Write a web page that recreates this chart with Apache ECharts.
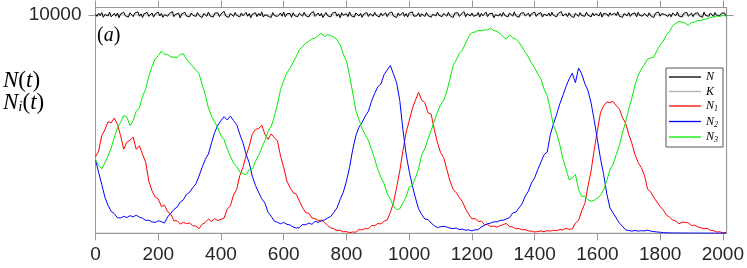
<!DOCTYPE html>
<html><head><meta charset="utf-8">
<script src="https://cdn.jsdelivr.net/npm/echarts@6/dist/echarts.min.js"></script>
<style>html,body{margin:0;padding:0;background:#fff}#c{width:747px;height:268px}</style>
</head><body><div id="c"></div>
<script>
// ---- data ----
const xTicks = [0, 200, 400, 600, 800, 1000, 1200, 1400, 1600, 1800, 2000];
const yTicks = [10000];
const stepTotal = 5;    // time step of N samples
const stepSpecies = 10; // time step of N1..N3 samples
const capacityK = 10000;

const totalN = [
10040,9930,10080,9970,10110,9890,10020,10060,9950,10130,
9910,10000,10070,9940,10090,9870,10050,9980,10120,9960,
10030,9900,10100,10010,9920,10080,9990,10140,9940,10050,
9880,10060,9970,10110,9930,10020,10090,9900,10040,9960,
10130,9950,10070,9890,10010,10100,9940,10060,9980,10150,
9920,10030,9970,10080,9860,10050,10000,10120,9950,10040,
9910,10090,9990,10060,9930,10110,9970,10020,9880,10070,
10010,9940,10130,9960,10050,9900,10080,9990,10100,9920,
10040,9970,10160,9950,10030,9890,10070,10000,9930,10110,
9980,10050,9910,10090,9960,10020,10120,9940,10060,9870,
10030,9990,10100,9920,10070,9960,10140,9900,10010,10080,
9950,10040,9880,10110,9970,10060,9930,10020,10090,9940,
10130,9910,10050,9980,10070,9890,10100,9960,10030,9920,
10080,10000,9940,10120,9970,10040,9900,10060,9990,10150,
9930,10020,10090,9950,10070,9880,10010,10110,9960,10040,
9910,10080,9990,10130,9940,10050,9870,10100,9980,10030,
10060,9920,10140,9960,10020,9900,10090,10010,9950,10070,
9890,10040,9970,10110,9930,10060,10000,9940,10120,9980,
10050,9910,10080,9960,10030,10100,9920,10070,9990,10130,
9950,10010,9880,10090,9970,10040,10120,9930,10060,9900,
10080,9990,10140,9940,10020,9960,10100,9910,10050,10000,
9930,10110,9970,10060,9890,10030,10090,9950,10130,9980,
10040,9920,10070,10010,9940,10120,9960,10050,9880,10080,
9990,10100,9930,10030,9970,10150,9910,10060,10000,9950,
10090,9940,10020,9980,10110,9900,10070,9960,10040,10130,
9920,10050,9990,10080,9870,10010,10100,9950,10060,9930,
10120,9970,10040,9910,10090,10000,9940,10140,9960,10030,
9890,10070,9980,10110,9950,10020,10080,9920,10060,9990,
10130,9930,10050,9970,10100,9900,10040,10010,9960,10090,
9940,10120,9980,10030,9910,10070,9990,10150,9950,10020,
10060,9920,10100,9960,10040,9880,10080,10000,9930,10110,
9970,10050,9940,10130,9990,10020,9910,10090,9960,10060,
10010,9950,10120,9900,10070,9980,10040,9930,10100,10000,
9920,10080,9970,10140,9940,10030,9890,10060,10010,9960,
10110,9930,10050,9990,10090,9910,10120,9970,10040,9950,
10070,10000,9920,10100,9960,10030,9880,10080,9990,10130,
9940,10060,9970,10020,10110,9930,10050,9910,10090,10010,
9960,10140,9950,10040,9900,10070,9980,10120,9940,10030,
10080,9920,10060,9990,10100,9960,10020,9890,10130,9970,
10050,9940,10090,10010,9930,10110,9980,10040,9960,10070,
9990,10100,9950
];

const n1 = [
3508,3760,4480,4740,5110,5060,5280,4990,4470,3850,
4170,4260,4400,3840,4010,3620,3250,2390,1950,1660,
1570,1230,1280,990,880,570,580,420,500,450,
470,350,330,210,410,500,650,540,670,580,
640,700,1110,1260,1750,2010,2640,3010,3560,3990,
4550,4760,4790,4950,4540,4300,4550,4380,4240,3530,
3020,2400,2100,1860,1790,1480,1180,950,920,700,
670,580,600,500,360,250,200,130,140,70,
80,30,60,50,170,160,220,200,360,350,
450,430,560,610,960,1400,2100,2850,3780,4600,
5150,5700,6100,6460,6090,5990,5520,5450,4760,4160,
3700,3470,2930,2400,2020,1860,1640,1440,1110,870,
660,670,550,560,400,410,310,330,280,350,
400,450,310,290,210,220,160,170,110,100,
60,80,110,70,120,100,140,120,170,160,
230,180,200,470,590,1030,1370,2150,2860,3850,
4690,5530,5840,6010,5990,6040,5840,5700,5300,5040,
4530,4120,3600,3240,3010,2660,2020,1900,1640,1430,
1220,1070,840,740,610,560,430,510,500,480,
360,370,290,250,210,230,140,120,60,70,
20,40
];

const n2 = [
3355,2790,2240,1650,1280,1010,900,710,700,780,
720,810,750,830,740,690,590,600,520,500,
570,530,470,750,920,1090,1200,1430,1530,1780,
1880,2090,2260,2620,3020,3390,3630,4150,4620,4950,
5160,5340,5190,5370,5160,4980,4540,4150,3630,3230,
2610,2190,1880,1580,1390,970,780,560,500,440,
500,410,380,290,240,260,400,390,470,410,
550,500,570,620,700,770,960,1170,1550,1880,
2390,3020,3840,4470,4860,5080,5370,5590,6050,6410,
6710,6840,7270,7480,7680,7290,6890,6080,4750,3640,
2840,2190,1620,1120,860,650,630,470,350,260,
300,320,290,230,220,240,170,190,140,160,
110,160,170,290,370,440,470,530,520,590,
600,660,720,930,970,1160,1350,1700,1930,2310,
2540,2920,3260,3600,3720,4520,5010,5440,5920,6310,
6720,7070,7330,6900,7570,7300,6850,6530,5970,5160,
4290,3410,2690,1810,1160,930,700,470,320,160,
130,100,130,100,120,110,140,100,80,60,
50,30,25,20,18,15,14,12,12,10,
10,9,9,8,8,7,7,6,6,5,
5,5
];

const n3 = [
3355,3110,2950,3230,3550,3910,4390,4830,5080,5390,
5310,4930,5160,5590,5740,6280,6600,7190,7630,7990,
8130,8340,8210,8180,8080,8070,8050,8190,8220,7980,
7790,7650,7480,7310,6810,6350,5740,5360,5090,4830,
4470,4290,3860,3530,3210,3070,2800,2730,2690,2920,
2950,3300,3560,3910,4250,4670,4890,5330,5920,6580,
6990,7350,7550,7830,8090,8410,8550,8710,8790,8900,
8940,9050,9170,9000,9100,9050,8990,8850,8640,8210,
7880,7220,6430,5620,5210,4780,4520,4250,3840,3410,
2920,2570,2280,1810,1550,1230,1090,1120,1390,1660,
2120,2180,2540,2950,3600,3870,4320,4700,5130,5540,
5890,6080,6500,7070,7680,7940,8230,8400,8710,9010,
9200,9210,9290,9280,9320,9310,9400,9280,9250,9130,
8990,8900,9090,8950,8890,8750,8530,8290,8070,7790,
7570,7300,7070,6610,6300,5650,4930,4590,4060,3410,
2950,2450,2530,2700,2000,1690,1700,1530,1470,1510,
1620,1730,2000,2420,2920,3150,3600,4020,4590,5090,
5690,6200,6800,7230,7520,7730,7980,8030,8070,8370,
8630,8800,9090,9250,9500,9620,9700,9670,9620,9520,
9650,9670,9740,9750,9800,9820,9890,9900,9950,9930,
9980,9950
];

// ---- chart ----
const pairs = (arr, step) => arr.map((v, i) => [i * step, v]);
const axisGrey = '#969696';
const labelFont = 'Liberation Sans, Arial, sans-serif';
const serif = 'Liberation Serif, Times New Roman, serif';
const X_MAX = 2012, Y_MAX = 10340;

const chart = echarts.init(document.getElementById('c'), null, {renderer: 'canvas'});
const lineSeries = (name, data, color, w, z) => ({
  name, type: 'line', data, showSymbol: false, symbol: 'none', animation: false,
  lineStyle: {color, width: w}, itemStyle: {color}, z, silent: true
});

const subRich = {
  n: {fontFamily: serif, fontStyle: 'italic', fontSize: 12, color: '#000'},
  s: {fontFamily: serif, fontSize: 8, color: '#000', padding: [6, 0, 0, 0]}
};
const legendNames = {N: '{n|N}', K: '{n|K}', N1: '{n|N}{s|1}', N2: '{n|N}{s|2}', N3: '{n|N}{s|3}'};
const plain = v => String(v);
const mkLine = () => ({show: true, onZero: false, lineStyle: {color: axisGrey, width: 1}});

chart.setOption({
  animation: false,
  grid: {left: 95.5, right: 17.5, top: 7.5, bottom: 34.7, containLabel: false,
         show: true, borderColor: axisGrey, borderWidth: 1, backgroundColor: 'transparent'},
  xAxis: [{
    type: 'value', min: 0, max: X_MAX, position: 'bottom',
    axisLine: mkLine(),
    axisTick: {show: true, inside: false, length: 7, lineStyle: {color: axisGrey}, customValues: xTicks},
    axisLabel: {show: true, customValues: xTicks, formatter: plain, margin: 12, fontFamily: labelFont, fontSize: 19, color: '#262626'},
    splitLine: {show: false}
  }, {
    type: 'value', min: 0, max: X_MAX, position: 'top',
    axisLine: mkLine(),
    axisTick: {show: true, inside: false, length: 7, lineStyle: {color: axisGrey}, customValues: xTicks},
    axisLabel: {show: false},
    splitLine: {show: false}
  }],
  yAxis: [{
    type: 'value', min: 0, max: Y_MAX, position: 'left',
    axisLine: mkLine(),
    axisTick: {show: true, inside: false, length: 7, lineStyle: {color: axisGrey}, customValues: yTicks},
    axisLabel: {show: true, customValues: yTicks, formatter: plain, margin: 14, fontFamily: labelFont, fontSize: 19, color: '#262626'},
    splitLine: {show: false}
  }, {
    type: 'value', min: 0, max: Y_MAX, position: 'right',
    axisLine: mkLine(),
    axisTick: {show: true, inside: false, length: 7, lineStyle: {color: axisGrey}, customValues: yTicks},
    axisLabel: {show: false},
    splitLine: {show: false}
  }],
  legend: {
    data: ['N', 'K', 'N1', 'N2', 'N3'],
    orient: 'vertical', left: 666, top: 68,
    icon: 'rect', itemWidth: 32, itemHeight: 1.3, itemGap: 2.5,
    padding: [3, 5, 3, 3],
    borderColor: '#555', borderWidth: 1, backgroundColor: '#fff',
    formatter: name => legendNames[name],
    textStyle: {fontFamily: serif, fontStyle: 'italic', fontSize: 12, color: '#000', rich: subRich}
  },
  series: [
    lineSeries('K', pairs(Array(202).fill(capacityK), stepSpecies), '#b0b0b0', 1, 1),
    lineSeries('N', pairs(totalN, stepTotal), '#000000', 1, 2),
    lineSeries('N1', pairs(n1, stepSpecies), '#ff0000', 1, 3),
    lineSeries('N2', pairs(n2, stepSpecies), '#0000ff', 1, 4),
    lineSeries('N3', pairs(n3, stepSpecies), '#00ee00', 1, 5)
  ],
  graphic: [
    {type: 'text', left: 3, top: 69, style: {
      text: '{i|N}{r|(}{i|t}{r|)}',
      rich: {i: {fontFamily: serif, fontStyle: 'italic', fontSize: 23, fill: '#000'}, r: {fontFamily: serif, fontSize: 23, fill: '#000'}}
    }},
    {type: 'text', left: 3, top: 91, style: {
      text: '{i|N}{s|i}{r|(}{i|t}{r|)}',
      rich: {i: {fontFamily: serif, fontStyle: 'italic', fontSize: 23, fill: '#000'},
             s: {fontFamily: serif, fontStyle: 'italic', fontSize: 15, fill: '#000', padding: [9, 0, 0, 0]},
             r: {fontFamily: serif, fontSize: 23, fill: '#000'}}
    }},
    {type: 'text', left: 97, top: 26, style: {
      text: '{r|(}{i|a}{r|)}',
      rich: {i: {fontFamily: serif, fontStyle: 'italic', fontSize: 20, fill: '#000'}, r: {fontFamily: serif, fontSize: 20, fill: '#000'}}
    }}
  ]
});
</script></body></html>
